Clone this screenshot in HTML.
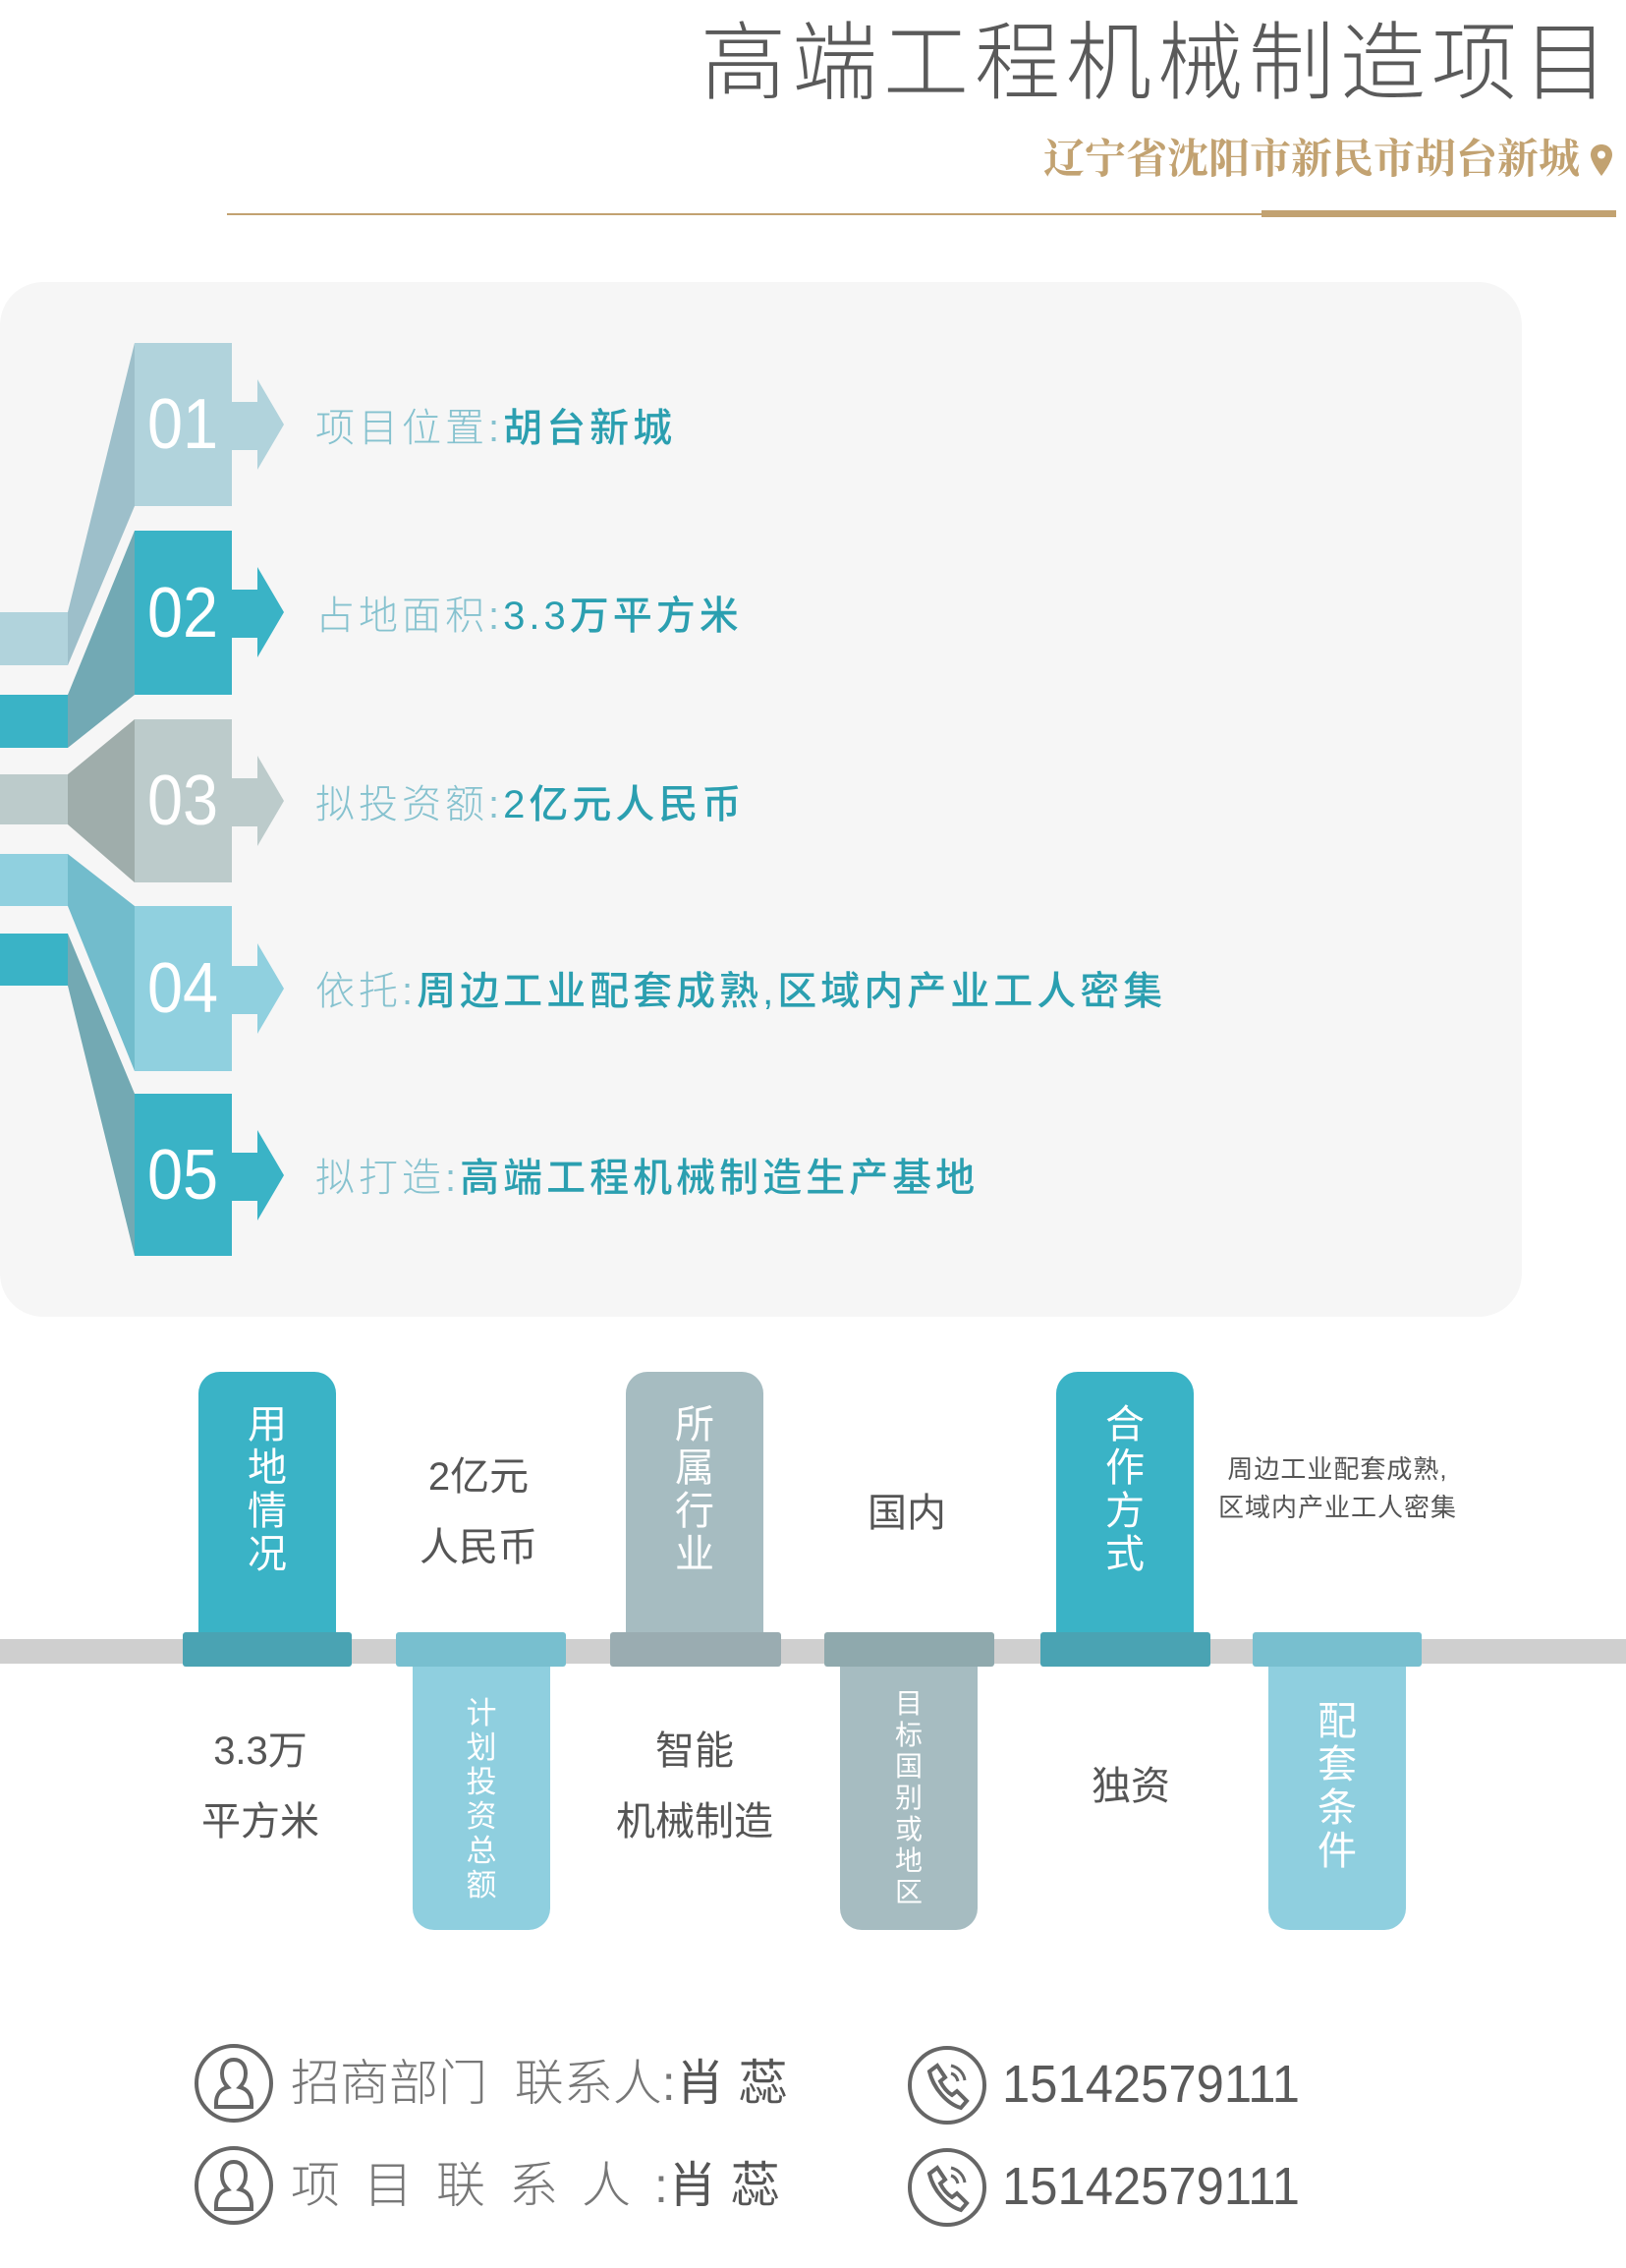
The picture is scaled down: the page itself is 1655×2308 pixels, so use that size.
<!DOCTYPE html>
<html><head><meta charset="utf-8">
<style>
*{margin:0;padding:0;box-sizing:border-box}
body{width:1655px;height:2308px;background:#fff;position:relative;overflow:hidden;font-family:"Liberation Sans","Noto Sans CJK SC",sans-serif}
.a{position:absolute;white-space:nowrap}
.title{right:12px;top:10px;font-size:87px;font-weight:300;color:#5a5a5a;letter-spacing:6px;line-height:110px}
.sub{right:47px;top:138px;font-family:"Liberation Serif","Noto Serif CJK SC",serif;font-weight:700;font-size:42px;color:#c2a271;line-height:50px}
.panel{left:0;top:287px;width:1549px;height:1053px;background:#f6f6f6;border-radius:44px}
.num{color:#fff;font-size:72px;font-weight:300;line-height:72px;transform:scaleX(0.9);transform-origin:left}
.row{left:321px;font-size:40px;line-height:50px;letter-spacing:4px}
.row .l{color:#86c2cf;font-weight:300}
.row .v{color:#2b9fb0;font-weight:500}
.vt{position:absolute;color:#fff;text-align:center;white-space:normal;word-break:break-all}
.g{color:#555;font-size:40px;text-align:center;line-height:72px;white-space:nowrap;position:absolute}
.ct{font-size:50px;color:#777;font-weight:300;line-height:60px}
.ct b{color:#555;font-weight:400}
.ph{font-size:54px;color:#5a5a5a;line-height:60px;transform:scaleX(0.94);transform-origin:left}
</style></head><body>
<div class="a title">高端工程机械制造项目</div>
<div class="a sub">辽宁省沈阳市新民市胡台新城</div>
<svg class="a" style="left:1618px;top:146px" width="24" height="34" viewBox="0 0 24 34"><path d="M12 1C5.5 1 1 5.5 1 11.5 1 19 12 33 12 33S23 19 23 11.5C23 5.5 18.5 1 12 1Z" fill="#c2a271"/><circle cx="12" cy="11.5" r="4" fill="#fff"/></svg>
<div class="a" style="left:231px;top:217px;width:1414px;height:2px;background:#c2a271"></div>
<div class="a" style="left:1284px;top:214px;width:361px;height:7px;background:#c2a271"></div>

<div class="a panel"></div>
<svg class="a" style="left:0;top:0" width="320" height="1300">
<rect x="0" y="623" width="69" height="54" fill="#b1d3dc"/>
<rect x="0" y="707" width="69" height="54" fill="#3ab3c6"/>
<rect x="0" y="788" width="69" height="51" fill="#bccbcb"/>
<rect x="0" y="869" width="69" height="53" fill="#90d0df"/>
<rect x="0" y="950" width="69" height="53" fill="#3ab3c6"/>
<polygon points="69,623 137,349 137,515 69,677" fill="#9dbfca"/>
<polygon points="69,707 137,540 137,707 69,761" fill="#72a9b4"/>
<polygon points="69,788 137,732 137,898 69,839" fill="#9fadab"/>
<polygon points="69,869 137,922 137,1090 69,922" fill="#72bccc"/>
<polygon points="69,950 137,1113 137,1278 69,1003" fill="#73a9b3"/>
<g fill="#b1d3dc"><rect x="137" y="349" width="99" height="166"/><polygon points="236,409 262,409 262,386 289,432 262,478 262,458 236,458"/></g>
<g fill="#3ab3c6"><rect x="137" y="540" width="99" height="167"/><polygon points="236,600 262,600 262,577 289,623 262,669 262,649 236,649"/></g>
<g fill="#bccbcb"><rect x="137" y="732" width="99" height="166"/><polygon points="236,792 262,792 262,769 289,815 262,861 262,841 236,841"/></g>
<g fill="#90d0df"><rect x="137" y="922" width="99" height="168"/><polygon points="236,983 262,983 262,960 289,1006 262,1052 262,1032 236,1032"/></g>
<g fill="#3ab3c6"><rect x="137" y="1113" width="99" height="165"/><polygon points="236,1173 262,1173 262,1150 289,1196 262,1242 262,1222 236,1222"/></g>
</svg>
<div class="a num" style="left:150px;top:396px">01</div>
<div class="a num" style="left:150px;top:588px">02</div>
<div class="a num" style="left:150px;top:779px">03</div>
<div class="a num" style="left:150px;top:970px">04</div>
<div class="a num" style="left:150px;top:1160px">05</div>

<div class="a row" style="top:411px"><span class="l">项目位置:</span><span class="v">胡台新城</span></div>
<div class="a row" style="top:602px"><span class="l">占地面积:</span><span class="v">3.3万平方米</span></div>
<div class="a row" style="top:794px"><span class="l">拟投资额:</span><span class="v">2亿元人民币</span></div>
<div class="a row" style="top:984px"><span class="l">依托:</span><span class="v">周边工业配套成熟,区域内产业工人密集</span></div>
<div class="a row" style="top:1174px"><span class="l">拟打造:</span><span class="v">高端工程机械制造生产基地</span></div>

<div class="a" style="left:0;top:1668px;width:1655px;height:25px;background:#cfcfcf"></div>

<div class="a" style="left:202px;top:1396px;width:140px;height:270px;background:#3ab3c6;border-radius:22px 22px 0 0"></div>
<div class="a" style="left:186px;top:1661px;width:172px;height:35px;background:#4aa3b3;border-radius:3px"></div>
<div class="a" style="left:637px;top:1396px;width:140px;height:270px;background:#a6bcc1;border-radius:22px 22px 0 0"></div>
<div class="a" style="left:621px;top:1661px;width:174px;height:35px;background:#9aacb1;border-radius:3px"></div>
<div class="a" style="left:1075px;top:1396px;width:140px;height:270px;background:#3ab3c6;border-radius:22px 22px 0 0"></div>
<div class="a" style="left:1059px;top:1661px;width:173px;height:35px;background:#4aa3b3;border-radius:3px"></div>

<div class="a" style="left:420px;top:1690px;width:140px;height:274px;background:#8fcfdf;border-radius:0 0 22px 22px"></div>
<div class="a" style="left:403px;top:1661px;width:173px;height:35px;background:#78bfcf;border-radius:3px"></div>
<div class="a" style="left:855px;top:1690px;width:140px;height:274px;background:#a6bcc1;border-radius:0 0 22px 22px"></div>
<div class="a" style="left:839px;top:1661px;width:173px;height:35px;background:#8fa9ad;border-radius:3px"></div>
<div class="a" style="left:1291px;top:1690px;width:140px;height:274px;background:#8fcfdf;border-radius:0 0 22px 22px"></div>
<div class="a" style="left:1275px;top:1661px;width:172px;height:35px;background:#78bfcf;border-radius:3px"></div>

<div class="vt" style="left:250px;width:44px;top:1428px;font-size:40px;line-height:44px">用地情况</div>
<div class="vt" style="left:685px;width:44px;top:1428px;font-size:40px;line-height:44px">所属行业</div>
<div class="vt" style="left:1123px;width:44px;top:1428px;font-size:40px;line-height:44px">合作方式</div>
<div class="vt" style="left:472px;width:36px;top:1726px;font-size:31px;line-height:35px">计划投资总额</div>
<div class="vt" style="left:908px;width:34px;top:1718px;font-size:28px;line-height:32px">目标国别或地区</div>
<div class="vt" style="left:1339px;width:44px;top:1730px;font-size:40px;line-height:44px">配套条件</div>

<div class="g" style="left:387px;width:200px;top:1467px">2亿元<br>人民币</div>
<div class="g" style="left:823px;width:200px;top:1504px">国内</div>
<div class="a" style="left:1240px;top:1476px;font-size:26px;line-height:39px;color:#555;text-align:center;letter-spacing:1px">周边工业配套成熟,<br>区域内产业工人密集</div>
<div class="g" style="left:165px;width:200px;top:1746px">3.3万<br>平方米</div>
<div class="g" style="left:587px;width:240px;top:1746px">智能<br>机械制造</div>
<div class="g" style="left:1051px;width:200px;top:1782px">独资</div>

<svg class="a" style="left:196px;top:2078px" width="84" height="84" viewBox="0 0 84 84"><circle cx="42" cy="42" r="38" fill="none" stroke="#666" stroke-width="4"/><path d="M42 18c-8 0-12 6-12 14s4 12 6 14c-8 2-12 8-12 16v4h36v-4c0-8-4-14-12-16 2-2 6-6 6-14s-4-14-12-14z" fill="none" stroke="#666" stroke-width="4"/></svg>
<svg class="a" style="left:196px;top:2182px" width="84" height="84" viewBox="0 0 84 84"><circle cx="42" cy="42" r="38" fill="none" stroke="#666" stroke-width="4"/><path d="M42 18c-8 0-12 6-12 14s4 12 6 14c-8 2-12 8-12 16v4h36v-4c0-8-4-14-12-16 2-2 6-6 6-14s-4-14-12-14z" fill="none" stroke="#666" stroke-width="4"/></svg>
<svg class="a" style="left:922px;top:2080px" width="84" height="84" viewBox="0 0 84 84"><circle cx="42" cy="42" r="38" fill="none" stroke="#666" stroke-width="4"/><path d="M24 28l8-6 8 12-5 4c3 6 7 11 12 14l5-4 10 10-6 7c-14-4-28-20-32-37z" fill="none" stroke="#666" stroke-width="4"/><path d="M46 22c8 2 13 8 14 15M46 30c4 1 6 4 7 8" fill="none" stroke="#666" stroke-width="3"/></svg>
<svg class="a" style="left:922px;top:2184px" width="84" height="84" viewBox="0 0 84 84"><circle cx="42" cy="42" r="38" fill="none" stroke="#666" stroke-width="4"/><path d="M24 28l8-6 8 12-5 4c3 6 7 11 12 14l5-4 10 10-6 7c-14-4-28-20-32-37z" fill="none" stroke="#666" stroke-width="4"/><path d="M46 22c8 2 13 8 14 15M46 30c4 1 6 4 7 8" fill="none" stroke="#666" stroke-width="3"/></svg>
<div class="a ct" style="left:296px;top:2090px">招商部门&nbsp;&nbsp;联系人:<b>肖 蕊</b></div>
<div class="a ct" style="left:296px;top:2194px;letter-spacing:24px">项目联系人<span style="letter-spacing:0">:<b>肖 蕊</b></span></div>
<div class="a ph" style="left:1020px;top:2091px">15142579111</div>
<div class="a ph" style="left:1020px;top:2195px">15142579111</div>
</body></html>
